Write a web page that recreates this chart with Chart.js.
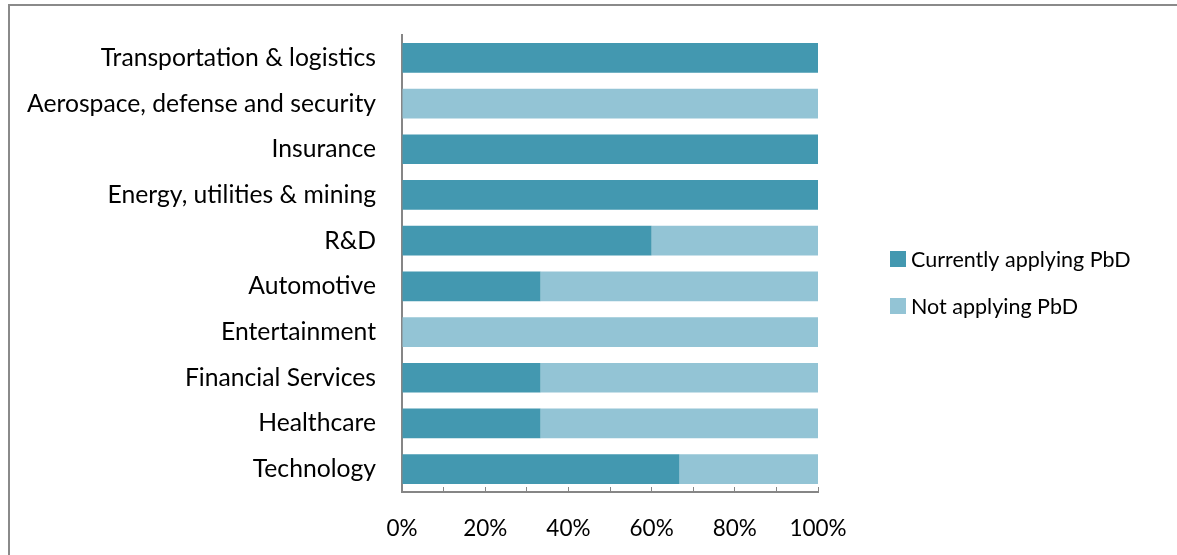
<!DOCTYPE html>
<html>
<head>
<meta charset="utf-8">
<script src="https://cdn.jsdelivr.net/npm/chart.js@4/dist/chart.umd.min.js"></script>
<style>
  html, body { margin: 0; padding: 0; background: #fff; overflow: hidden; }
  #wrap { position: relative; width: 1177px; height: 555px; }
  #frame { position: absolute; left: 8px; top: 4px; width: 1300px; height: 700px; border: 2px solid #8a8a8a; box-sizing: border-box; }
  canvas { position: absolute; left: 0; top: 0; }
</style>
</head>
<body>
<div id="wrap">
  <div id="frame"></div>
  <canvas id="c" width="1177" height="555"></canvas>
</div>
<script>
const categories = [
  "Transportation & logistics",
  "Aerospace, defense and security",
  "Insurance",
  "Energy, utilities & mining",
  "R&D",
  "Automotive",
  "Entertainment",
  "Financial Services",
  "Healthcare",
  "Technology"
];
const currentlyApplying = [100, 0, 100, 100, 60, 33.3, 0, 33.3, 33.3, 66.7];
const notApplying = [0, 100, 0, 0, 40, 66.7, 100, 66.7, 66.7, 33.3];
const seriesNames = ["Currently applying PbD", "Not applying PbD"];
const tickLabels = ["0%", "20%", "40%", "60%", "80%", "100%"];

const DARK = "#4398b0";
const LIGHT = "#93c4d5";
const FONT = "Lato, 'Open Sans', sans-serif";

const legendPlugin = {
  id: "customLegend",
  afterDraw(chart) {
    const ctx = chart.ctx;
    ctx.save();
    ctx.font = "21.5px " + FONT;
    ctx.textBaseline = "middle";
    ctx.textAlign = "left";
    const ys = [259, 306];
    chart.data.datasets.forEach((ds, i) => {
      ctx.fillStyle = ds.backgroundColor;
      ctx.fillRect(890, ys[i] - 8, 16, 16);
      ctx.fillStyle = "#000";
      ctx.fillText(ds.label, 911, ys[i] + 1);
    });
    ctx.restore();
  }
};

new Chart(document.getElementById("c"), {
  type: "bar",
  data: {
    labels: categories,
    datasets: [
      { label: seriesNames[0], data: currentlyApplying, backgroundColor: DARK, barPercentage: 0.65, categoryPercentage: 1 },
      { label: seriesNames[1], data: notApplying, backgroundColor: LIGHT, barPercentage: 0.65, categoryPercentage: 1 }
    ]
  },
  options: {
    indexAxis: "y",
    responsive: false,
    animation: false,
    devicePixelRatio: 1,
    layout: { padding: { left: 0, right: 359, top: 35, bottom: 0 } },
    plugins: { legend: { display: false }, tooltip: { enabled: false } },
    scales: {
      x: {
        stacked: true,
        min: 0, max: 100,
        afterFit(scale) { scale.height = 63; scale.paddingLeft = 0; scale.paddingRight = 0; },
        ticks: {
          stepSize: 10,
          autoSkip: false,
          maxRotation: 0,
          padding: 28,
          color: "#000",
          font: { family: FONT, size: 22.5 },
          callback: (v) => (v % 20 === 0 ? tickLabels[v / 20] : "")
        },
        grid: { drawOnChartArea: false, drawTicks: true, tickLength: -5, color: "#868686", lineWidth: 1 },
        border: { color: "#868686", width: 2 }
      },
      y: {
        stacked: true,
        afterFit(scale) { scale.width = 402; scale.paddingTop = 0; scale.paddingBottom = 0; },
        ticks: { padding: 26, color: "#000", font: { family: FONT, size: 24.7 }, autoSkip: false },
        grid: { display: false, drawTicks: false },
        border: { color: "#868686", width: 2 }
      }
    }
  },
  plugins: [legendPlugin]
});
</script>
</body>
</html>
